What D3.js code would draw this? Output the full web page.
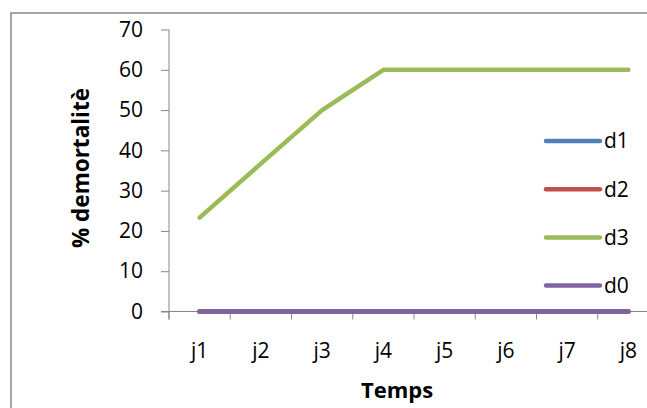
<!DOCTYPE html>
<html>
<head>
<meta charset="utf-8">
<script src="https://d3js.org/d3.v7.min.js"></script>
<style>
  body { margin: 0; background: #fff; }
  text { font-family: "Open Sans", "Noto Sans", sans-serif; fill: #000; }
  .axis path, .axis line { stroke: #868686; }
</style>
</head>
<body>
<div id="chart"></div>
<script>
// data (careful: don't call a series "d3", it would shadow the library)
var days = ["j1", "j2", "j3", "j4", "j5", "j6", "j7", "j8"];
var valuesD1 = [0, 0, 0, 0, 0, 0, 0, 0];
var valuesD2 = [0, 0, 0, 0, 0, 0, 0, 0];
var valuesD3 = [23.3, 36.7, 50, 60, 60, 60, 60, 60];
var valuesD0 = [0, 0, 0, 0, 0, 0, 0, 0];
var seriesNames = ["d1", "d2", "d3", "d0"];
var seriesColors = ["#4F81BD", "#C0504D", "#9BBB59", "#8064A2"];
var yTicks = [0, 10, 20, 30, 40, 50, 60, 70];

var svgWidth = 647;
var svgHeight = 408;
var labelSize = "21px";

var svg = d3.select("#chart").append("svg")
  .attr("width", svgWidth)
  .attr("height", svgHeight);

// chart border (right & bottom run off the picture)
svg.append("rect")
  .attr("x", 11)
  .attr("y", 13)
  .attr("width", 700)
  .attr("height", 500)
  .attr("fill", "none")
  .attr("stroke", "#868686")
  .attr("stroke-width", 1.5);

// scales
var xScale = d3.scaleBand()
  .domain(days)
  .range([169, 659]);

var yScale = d3.scaleLinear()
  .domain([0, 70])
  .range([311.5, 29.5]);

// y axis
var yAxis = svg.append("g")
  .attr("class", "axis")
  .attr("transform", "translate(169,0)")
  .call(d3.axisLeft(yScale).tickValues(yTicks).tickSize(8).tickPadding(18).tickSizeOuter(0));
yAxis.select(".domain").attr("d", "M0," + yScale(70) + "V" + (yScale(0) + 8));
yAxis.selectAll("text").style("font-size", labelSize);

// x axis
var xAxis = svg.append("g")
  .attr("class", "axis")
  .attr("transform", "translate(0," + yScale(0) + ")")
  .call(d3.axisBottom(xScale).tickSize(0).tickPadding(32));
xAxis.selectAll("text").style("font-size", labelSize);
xAxis.select(".domain").attr("d", "M161,0H" + svgWidth);
xAxis.selectAll(".sep")
  .data(days)
  .enter()
  .append("line")
  .attr("x1", d => xScale(d))
  .attr("x2", d => xScale(d))
  .attr("y1", 0)
  .attr("y2", 8)
  .attr("stroke", "#868686");

// lines
var lineGen = d3.line()
  .x((v, i) => xScale(days[i]) + xScale.bandwidth() / 2)
  .y(v => yScale(v));

var allSeries = [valuesD1, valuesD2, valuesD3, valuesD0];
svg.selectAll(".series")
  .data(allSeries)
  .enter()
  .append("path")
  .attr("class", "series")
  .attr("d", d => lineGen(d))
  .attr("fill", "none")
  .attr("stroke", (d, i) => seriesColors[i])
  .attr("stroke-width", (d, i) => i === 3 ? 5 : 4.5)
  .attr("stroke-linecap", "round")
  .attr("stroke-linejoin", "round");

// legend
var legend = svg.selectAll(".legend")
  .data(seriesNames)
  .enter()
  .append("g")
  .attr("class", "legend")
  .attr("transform", (d, i) => "translate(546," + (141 + i * 48.2) + ")");

legend.append("line")
  .attr("x1", 0)
  .attr("x2", 54)
  .attr("stroke", (d, i) => seriesColors[i])
  .attr("stroke-width", 4.5)
  .attr("stroke-linecap", "round");

legend.append("text")
  .attr("x", 58)
  .attr("dy", "0.35em")
  .style("font-size", labelSize)
  .text(d => d);

// axis titles
svg.append("text")
  .attr("transform", "translate(89,168) rotate(-90)")
  .attr("text-anchor", "middle")
  .style("font-size", "22.5px")
  .style("font-weight", "bold")
  .text("% demortalitè");

svg.append("text")
  .attr("x", 397)
  .attr("y", 398)
  .attr("text-anchor", "middle")
  .style("font-size", "22px")
  .style("font-weight", "bold")
  .text("Temps");
</script>
</body>
</html>
